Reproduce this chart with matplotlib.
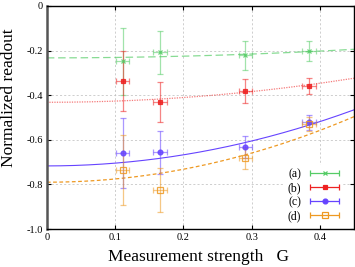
import numpy as np
import matplotlib
matplotlib.use("Agg")
import matplotlib.pyplot as plt
from matplotlib.legend_handler import HandlerErrorbar
from matplotlib.container import ErrorbarContainer

plt.rcParams['font.family'] = ['Liberation Serif', 'DejaVu Serif']
plt.rcParams['axes.unicode_minus'] = False

# data
G = [0.111, 0.166, 0.291, 0.384]
g_err = [0.01, 0.01, 0.01, 0.01]

y_a = [-0.248, -0.208, -0.222, -0.203]
e_a = [0.15, 0.095, 0.065, 0.045]
y_b = [-0.336, -0.432, -0.381, -0.360]
e_b = [0.135, 0.09, 0.053, 0.036]
y_c = [-0.659, -0.656, -0.631, -0.522]
e_c = [0.155, 0.095, 0.05, 0.032]
y_d = [-0.735, -0.825, -0.683, -0.529]
e_d = [0.157, 0.10, 0.048, 0.03]

# fit curves y = p0 + p2*G^2
fit_a = [-0.233, 0.19]
fit_b = [-0.432, 0.533]
fit_c = [-0.717, 1.24]
fit_d = [-0.790, 1.45]

labels = ['(a)', '(b)', '(c)', '(d)']
colors = ['#55cc66', '#ee2222', '#6644ff', '#ee9922']

fig = plt.figure(figsize=(3.55, 2.67), dpi=100)
ax = fig.add_axes([0.132, 0.142, 0.865, 0.836])

xs = np.linspace(0, 0.45, 200)
ax.plot(xs, fit_a[0] + fit_a[1] * xs**2, color=colors[0], ls=(0, (6, 3)), lw=0.9, alpha=0.7)
ax.plot(xs, fit_b[0] + fit_b[1] * xs**2, color=colors[1], ls=(0, (1, 1)), lw=0.9, alpha=0.6)
ax.plot(xs, fit_c[0] + fit_c[1] * xs**2, color=colors[2], ls='-', lw=0.8)
ax.plot(xs, fit_d[0] + fit_d[1] * xs**2, color=colors[3], ls=(0, (3, 2)), lw=0.9)

series = [(y_a, e_a, 'x', colors[0]), (y_b, e_b, 's', colors[1]),
          (y_c, e_c, 'o', colors[2]), (y_d, e_d, 's', colors[3])]
handles = []
for i, (y, e, m, c) in enumerate(series):
    mfc = 'none' if i == 3 else c
    ms = 4 if i == 3 else 3.5
    ax.errorbar(G, y, xerr=g_err, yerr=e, fmt='none', ecolor=c, elinewidth=0.9,
                capsize=2, capthick=0.9, alpha=0.55, zorder=3)
    ax.plot(G, y, ls='none', marker=m, ms=ms, color=c, mfc=mfc, mec=c, mew=0.9,
            alpha=0.85, zorder=4)
    h = ax.errorbar([np.nan], [np.nan], xerr=[0.01], fmt=m, color=c, mfc=mfc,
                    ms=ms, mew=0.9, elinewidth=0.9, capsize=2.5, capthick=0.9)
    handles.append(h)

leg = ax.legend(handles, labels, loc='lower right', bbox_to_anchor=(0.985, -0.01),
                markerfirst=False, frameon=True, fancybox=False, edgecolor='none',
                framealpha=1, fontsize=8.5, handlelength=2.6, handletextpad=0.7,
                labelspacing=0.15, borderpad=0.3,
                handler_map={ErrorbarContainer: HandlerErrorbar(xerr_size=1.25)})

ax.set_xlim(0, 0.45)
ax.set_ylim(-1.0, 0)
ax.set_xticks([0, 0.1, 0.2, 0.3, 0.4])
ax.set_xticklabels(['0', '0.1', '0.2', '0.3', '0.4'])
ax.set_yticks([-1.0, -0.8, -0.6, -0.4, -0.2, 0])
ax.set_yticklabels(['-1.0', '-0.8', '-0.6', '-0.4', '-0.2', '0'])
ax.tick_params(direction='in', top=True, right=True, length=3, width=0.8,
               labelsize=7.5, pad=3)
ax.grid(True, color='#bbbbbb', ls=(0, (3, 3)), lw=0.5)
for s in ['top', 'right', 'bottom']:
    ax.spines[s].set_linewidth(1.0)
ax.spines['left'].set_linewidth(1.8)
ax.spines['left'].set_color('#555555')

ax.set_xlabel('Measurement strength   G', fontsize=12.5)
ax.set_ylabel('Normalized readout', fontsize=12.5)
ax.xaxis.set_label_coords(0.495, -0.09)
ax.yaxis.set_label_coords(-0.098, 0.59)

fig.savefig('out.png', dpi=100)
